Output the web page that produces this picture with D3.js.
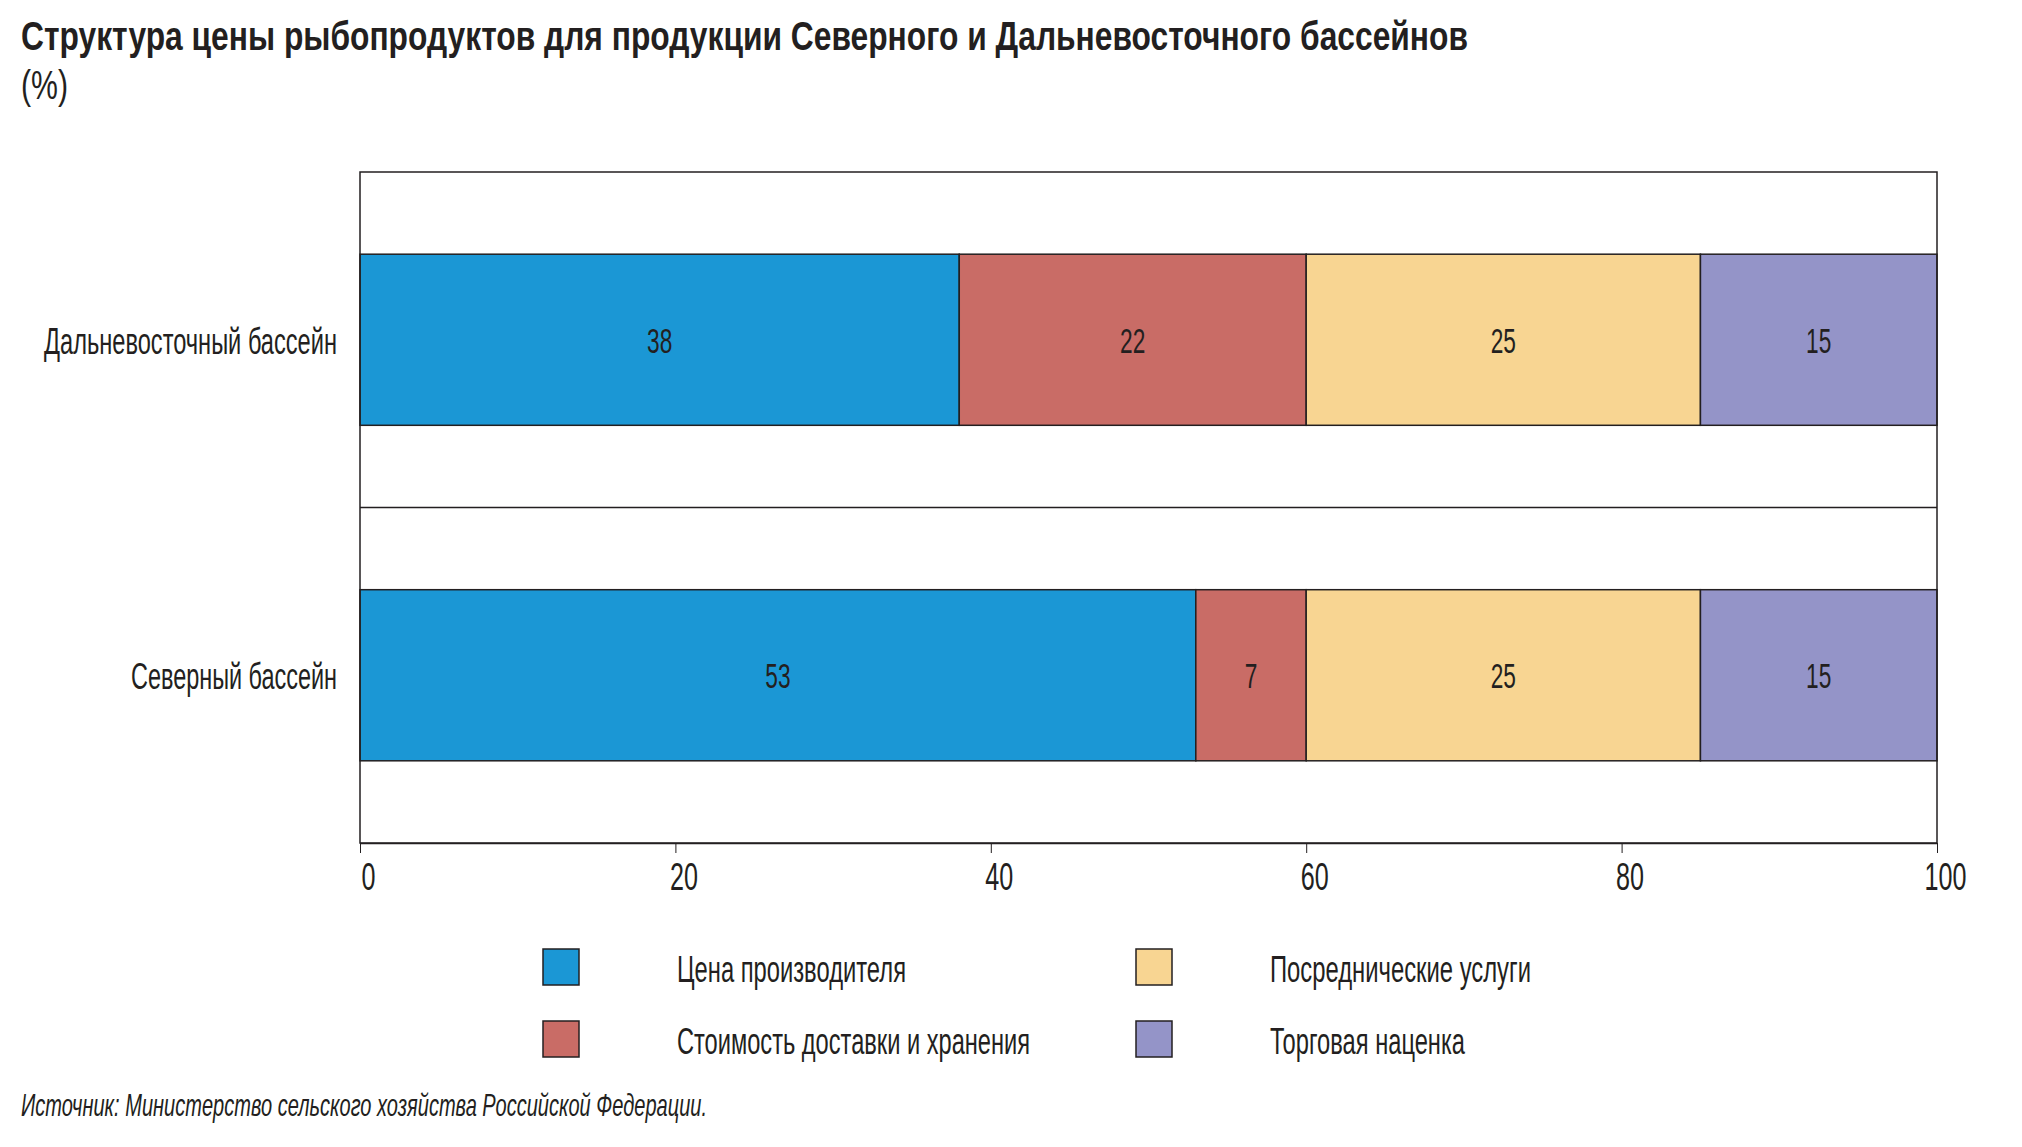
<!DOCTYPE html>
<html>
<head>
<meta charset="utf-8">
<script src="https://cdn.jsdelivr.net/npm/d3@7"></script>
<style>
  html, body { margin: 0; padding: 0; background: #ffffff; }
  svg { display: block; }
  text { font-family: "Liberation Sans", Arial, sans-serif; fill: #231f20; }
</style>
</head>
<body>
<svg id="chart" width="2022" height="1147"></svg>
<script>
// ---------- DATA ----------
const categories = ["Дальневосточный бассейн", "Северный бассейн"];
const seriesNames = ["Цена производителя", "Стоимость доставки и хранения", "Посреднические услуги", "Торговая наценка"];
const producerPrice = [38, 53];
const deliveryStorage = [22, 7];
const intermediaryServices = [25, 25];
const tradeMarkup = [15, 15];
const xTicks = [0, 20, 40, 60, 80, 100];
const titleText = "Структура цены рыбопродуктов для продукции Северного и Дальневосточного бассейнов";
const unitText = "(%)";
const sourceText = "Источник: Министерство сельского хозяйства Российской Федерации.";

// ---------- STYLE ----------
const colors = ["#1b97d5", "#c96c66", "#f8d592", "#9494c8"];
const ink = "#231f20";
const W = 2022, H = 1147;
const plot = { left: 360, right: 1937, top: 172, bottom: 843 };
const condense = 0.63;

const svg = d3.select("#chart");
svg.append("rect").attr("width", W).attr("height", H).attr("fill", "#fff");

// fit a text element to a target width
function fit(sel, width) {
  sel.attr("textLength", width).attr("lengthAdjust", "spacingAndGlyphs");
  return sel;
}

// ---------- TITLE ----------
fit(svg.append("text").attr("x", 21).attr("y", 50)
  .attr("font-size", 40).attr("font-weight", "bold").text(titleText), 1447);
fit(svg.append("text").attr("x", 21).attr("y", 99)
  .attr("font-size", 40).text(unitText), 47);

// ---------- SCALES ----------
const x = d3.scaleLinear().domain([0, 100]).range([plot.left, plot.right]);
const y = d3.scaleBand().domain(categories).range([plot.top, plot.bottom])
  .paddingInner(0.49).paddingOuter(0.245);

const seriesArrays = [producerPrice, deliveryStorage, intermediaryServices, tradeMarkup];
const rows = categories.map((c, i) => {
  const o = { category: c };
  seriesNames.forEach((s, j) => { o[s] = seriesArrays[j][i]; });
  return o;
});
const stacked = d3.stack().keys(seriesNames)(rows);

// ---------- FRAME / GRID ----------
const step = y.step();
// separator between categories
categories.slice(1).forEach(c => {
  const yy = y(c) - (step - y.bandwidth()) / 2;
  svg.append("line").attr("x1", plot.left).attr("x2", plot.right)
    .attr("y1", yy).attr("y2", yy).attr("stroke", ink).attr("stroke-width", 1.5);
});

// ---------- BARS ----------
const g = svg.append("g");
stacked.forEach((layer, li) => {
  g.selectAll(null).data(layer).enter().append("rect")
    .attr("x", d => x(d[0]))
    .attr("width", d => x(d[1]) - x(d[0]))
    .attr("y", d => y(d.data.category))
    .attr("height", y.bandwidth())
    .attr("fill", colors[li])
    .attr("stroke", ink)
    .attr("stroke-width", 1.5);
});

// value labels
stacked.forEach((layer) => {
  g.selectAll(null).data(layer).enter().append("g")
    .attr("transform", d => `translate(${(x(d[0]) + x(d[1])) / 2},${y(d.data.category) + y.bandwidth() / 2 + 13})`)
    .append("text")
    .attr("transform", `scale(${condense},1)`)
    .attr("text-anchor", "middle")
    .attr("font-size", 36)
    .text(d => d[1] - d[0]);
});

// plot frame
svg.append("rect").attr("x", plot.left).attr("y", plot.top)
  .attr("width", plot.right - plot.left).attr("height", plot.bottom - plot.top)
  .attr("fill", "none").attr("stroke", ink).attr("stroke-width", 1.5);

// ---------- X AXIS ----------
const axis = svg.append("g").attr("transform", `translate(0,${plot.bottom})`)
  .call(d3.axisBottom(x).tickValues(xTicks).tickSize(10).tickSizeOuter(0).tickFormat(d3.format("d")));
axis.select(".domain").attr("stroke", ink).attr("stroke-width", 1.5);
axis.selectAll(".tick line").attr("stroke", ink).attr("stroke-width", 1);
axis.selectAll(".tick text").remove();
axis.selectAll(".tick").append("g")
  .attr("transform", "translate(8,47)")
  .append("text")
  .attr("transform", "scale(0.645,1)")
  .attr("text-anchor", "middle")
  .attr("font-size", 39)
  .style("font-family", '"Liberation Sans", Arial, sans-serif')
  .attr("fill", ink)
  .text(d => d);

// ---------- CATEGORY LABELS ----------
const catWidths = [293, 206];
categories.forEach((c, i) => {
  fit(svg.append("text")
    .attr("x", 337).attr("y", y(c) + y.bandwidth() / 2 + 14)
    .attr("text-anchor", "end")
    .attr("font-size", 36)
    .text(c), catWidths[i]);
});

// ---------- LEGEND ----------
const legendPos = [
  { sx: 543, sy: 949, tx: 677, w: 229 },
  { sx: 543, sy: 1021, tx: 677, w: 353 },
  { sx: 1136, sy: 949, tx: 1270, w: 261 },
  { sx: 1136, sy: 1021, tx: 1270, w: 195 }
];
seriesNames.forEach((s, i) => {
  const p = legendPos[i];
  svg.append("rect").attr("x", p.sx).attr("y", p.sy).attr("width", 36).attr("height", 36)
    .attr("fill", colors[i]).attr("stroke", ink).attr("stroke-width", 1.5);
  fit(svg.append("text").attr("x", p.tx).attr("y", p.sy + 33)
    .attr("font-size", 37).text(s), p.w);
});

// ---------- SOURCE ----------
fit(svg.append("text").attr("x", 21).attr("y", 1116)
  .attr("font-size", 32).attr("font-style", "italic").text(sourceText), 686);
</script>
</body>
</html>
